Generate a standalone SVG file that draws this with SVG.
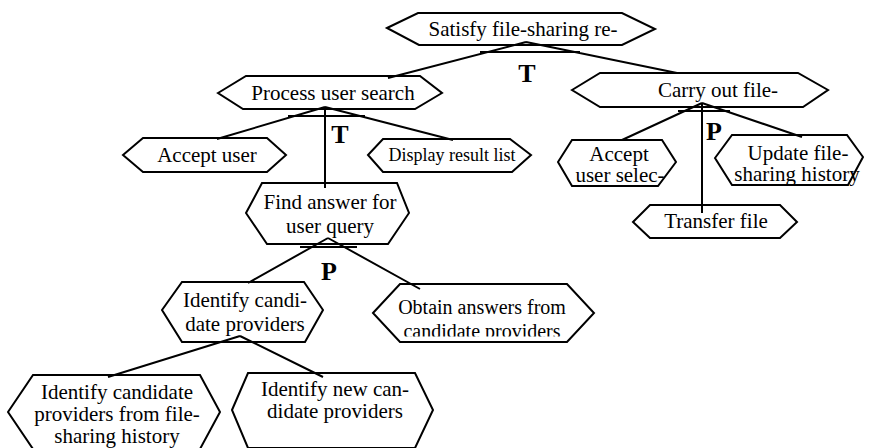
<svg xmlns="http://www.w3.org/2000/svg" width="877" height="448" viewBox="0 0 877 448">
  <style>
    .hex { fill: #ffffff; stroke: #000000; stroke-width: 2; stroke-linejoin: miter; }
    .lbl { font-family: "Liberation Serif", "Times New Roman", serif; font-size: 21px; text-anchor: middle; fill: #000000; }
    .sm { font-size: 18px; }
    .md { font-size: 20px; }
    .op { font-family: "Liberation Serif", "Times New Roman", serif; font-size: 26px; font-weight: bold; text-anchor: middle; fill: #000000; }
    .link { fill: none; stroke: #000000; stroke-width: 2; }
  </style>
  <defs>
    <clipPath id="clipObtain">
      <rect x="370" y="280" width="230" height="56.5"/>
    </clipPath>
  </defs>
  <rect x="0" y="0" width="877" height="448" fill="#ffffff"/>

  <!-- goal nodes -->
  <g id="satisfy">
    <polygon class="hex" points="387,28 418,13 622,13 655,29 622,45 419,45"/>
    <text class="lbl" x="523" y="36">Satisfy file-sharing re-</text>
  </g>
  <g id="process-search">
    <polygon class="hex" points="218,93 246,76 420,76 442,93 415,109 243,109"/>
    <text class="lbl" x="333" y="100">Process user search</text>
  </g>
  <g id="carry-out">
    <polygon class="hex" points="572,90 600,73 798,73 828,90 803,107 600,107"/>
    <text class="lbl" x="718" y="97">Carry out file-</text>
  </g>
  <g id="accept-user">
    <polygon class="hex" points="123,155 143,138 267,138 286,155 267,172 143,172"/>
    <text class="lbl" x="207" y="162">Accept user</text>
  </g>
  <g id="display-results">
    <polygon class="hex" points="368,155 383,139 510,139 531,155 512,172 383,172"/>
    <text class="lbl sm" x="452" y="161">Display result list</text>
  </g>
  <g id="find-answer">
    <polygon class="hex" points="246,213 262,183 397,183 409,213 388,244 267,244"/>
    <text class="lbl" x="330" y="209">Find answer for</text>
    <text class="lbl" x="330" y="233">user query</text>
  </g>
  <g id="accept-selection">
    <polygon class="hex" points="558,162 572,140 662,140 676,162 658,186 572,186"/>
    <text class="lbl" x="619" y="161">Accept</text>
    <text class="lbl" x="620" y="182">user selec-</text>
  </g>
  <g id="update-history">
    <polygon class="hex" points="715,158 732,135 847,135 863,157 848,185 732,185"/>
    <text class="lbl" x="798" y="160">Update file-</text>
    <text class="lbl" x="797" y="181">sharing history</text>
  </g>
  <g id="transfer-file">
    <polygon class="hex" points="633,222 650,205 780,205 797,222 780,238 650,238"/>
    <text class="lbl" x="716" y="228">Transfer file</text>
  </g>
  <g id="identify-candidates">
    <polygon class="hex" points="162,310 182,282 304,282 323,310 305,342 182,342"/>
    <text class="lbl" x="245" y="307">Identify candi-</text>
    <text class="lbl" x="245" y="331">date providers</text>
  </g>
  <g id="obtain-answers">
    <polygon class="hex" points="373,313 400,284 567,284 594,313 567,342 400,342"/>
    <text class="lbl md" x="482" y="314">Obtain answers from</text>
    <text class="lbl md" x="482" y="338" clip-path="url(#clipObtain)">candidate providers</text>
  </g>
  <g id="identify-from-history">
    <polygon class="hex" points="8,412 33,375 200,375 220,412 200,449 33,449"/>
    <text class="lbl" x="117" y="399">Identify candidate</text>
    <text class="lbl" x="117" y="421">providers from file-</text>
    <text class="lbl" x="117" y="443">sharing history</text>
  </g>
  <g id="identify-new">
    <polygon class="hex" points="232,410 248,373 415,373 433,410 415,448 248,448"/>
    <text class="lbl" x="335" y="396">Identify new can-</text>
    <text class="lbl" x="335" y="418">didate providers</text>
  </g>

  <!-- decomposition links with operator bars and labels -->
  <g id="connectors">
    <path class="link" d="M526,42 L388,78 M526,42 L677,73 M480,52 L580,52"/>
    <text class="op" x="527" y="82">T</text>

    <path class="link" d="M325,107 L217,139 M325,107 L453,140 M325,107 L325,188 M288,116 L365,116"/>
    <text class="op" x="340" y="143">T</text>

    <path class="link" d="M328,238 L248,283 M328,238 L420,289 M300,247 L357,247"/>
    <text class="op" x="329" y="280">P</text>

    <path class="link" d="M240,336 L108,377 M240,336 L323,377"/>

    <path class="link" d="M702,103 L622,140 M702,103 L802,137 M702,103 L702,213 M678,111 L730,111"/>
    <text class="op" x="714" y="140">P</text>
  </g>
</svg>
